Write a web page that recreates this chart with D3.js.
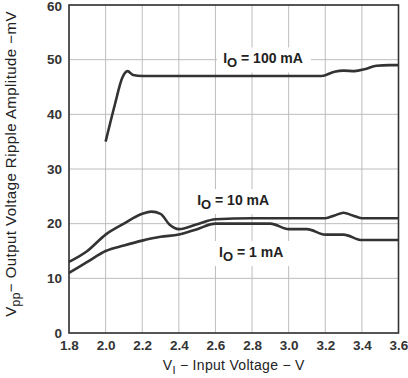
<!DOCTYPE html>
<html><head><meta charset="utf-8">
<script src="https://cdn.jsdelivr.net/npm/d3@7"></script>
<style>body{margin:0;background:#fff}svg{display:block;font-family:"Liberation Sans",Arial,sans-serif}</style>
</head><body><svg id="c" width="408" height="378"></svg>
<script>
const xTicks = [1.8,2.0,2.2,2.4,2.6,2.8,3.0,3.2,3.4,3.6];
const yTicks = [0,10,20,30,40,50,60];
const vin100 = [2.0,2.05,2.09,2.12,2.15,2.2,2.6,3.0,3.18,3.25,3.3,3.36,3.42,3.48,3.55,3.6];
const ripple100 = [35,41.7,46.6,47.9,47.2,47,47,47,47,47.8,48,47.9,48.3,48.9,49,49];
const vin10 = [1.8,1.9,2.0,2.1,2.2,2.25,2.3,2.35,2.4,2.5,2.6,2.8,3.0,3.2,3.25,3.3,3.35,3.4,3.6];
const ripple10 = [13,15,18,20,21.8,22.2,21.8,19.8,19,19.9,20.8,21,21,21,21.5,22,21.5,21,21];
const vin1 = [1.8,1.9,2.0,2.1,2.2,2.3,2.4,2.5,2.6,2.8,2.9,3.0,3.1,3.2,3.3,3.4,3.6];
const ripple1 = [11,13,15,16,16.9,17.6,18,19,20,20,20,19,19,18,18,17,17];
const labels = [
  {t:"100 mA", x:2.642, y:49.3},
  {t:"10 mA", x:2.50, y:23.4},
  {t:"1 mA", x:2.62, y:13.9}
];

const svg = d3.select("#c");
const L=69, R=398.5, T=5, B=333;
const x = d3.scaleLinear().domain([1.8,3.6]).range([L,R]);
const y = d3.scaleLinear().domain([0,60]).range([B,T]);

// grid
svg.append("g").selectAll("line").data(xTicks).join("line")
  .attr("x1",d=>x(d)).attr("x2",d=>x(d)).attr("y1",T).attr("y2",B)
  .attr("stroke","#bdbdbd").attr("stroke-width",1);
svg.append("g").selectAll("line").data(yTicks).join("line")
  .attr("y1",d=>y(d)).attr("y2",d=>y(d)).attr("x1",L).attr("x2",R)
  .attr("stroke","#bdbdbd").attr("stroke-width",1);

// axes labels via d3 axes
const xa = svg.append("g").attr("transform",`translate(0,${B})`)
  .call(d3.axisBottom(x).tickValues(xTicks).tickFormat(d3.format(".1f")).tickSize(0).tickPadding(7));
const ya = svg.append("g").attr("transform",`translate(${L},0)`)
  .call(d3.axisLeft(y).tickValues(yTicks).tickSize(0).tickPadding(7));
[xa,ya].forEach(a=>{a.select(".domain").remove();
  a.selectAll("text").attr("font-family","Liberation Sans, Arial, sans-serif")
   .attr("font-size",13.5).attr("font-weight","bold").attr("fill","#333");});
ya.selectAll("text").filter(d=>d===60).attr("dy","0.40em");

// label backgrounds + labels
const lg = svg.append("g");
labels.forEach(l=>{
  const g = lg.append("g");
  const t = g.append("text").attr("x",x(l.x)).attr("y",y(l.y)).attr("font-size",14)
    .attr("font-weight","bold").attr("fill","#222");
  t.append("tspan").text("I");
  t.append("tspan").attr("dy",4).attr("font-size",13).text("O");
  t.append("tspan").attr("dy",-4).text(" = "+l.t);
  const bb = t.node().getBBox();
  g.insert("rect","text").attr("x",bb.x-6).attr("y",bb.y-3).attr("width",bb.width+14).attr("height",bb.height+5).attr("fill","#fff");
});

// curves
const line = d3.line().x(d=>x(d[0])).y(d=>y(d[1])).curve(d3.curveMonotoneX);
[[vin100,ripple100],[vin10,ripple10],[vin1,ripple1]].forEach(([a,b])=>{
  svg.append("path").datum(a.map((v,i)=>[v,b[i]])).attr("d",line)
    .attr("fill","none").attr("stroke","#333").attr("stroke-width",2.6).attr("stroke-linejoin","round");
});

// frame
svg.append("rect").attr("x",L).attr("y",T).attr("width",R-L).attr("height",B-T)
  .attr("fill","none").attr("stroke","#333").attr("stroke-width",1.6);

// axis titles
const xt = svg.append("text").attr("x",(L+R)/2).attr("y",370).attr("text-anchor","middle")
  .attr("font-size",14).attr("letter-spacing",0.3).attr("fill","#222");
xt.append("tspan").text("V");
xt.append("tspan").attr("dy",4).attr("font-size",11).text("I");
xt.append("tspan").attr("dy",-4).text(" \u2212 Input Voltage \u2212 V");

const yt = svg.append("text").attr("transform",`translate(16,164) rotate(-90)`)
  .attr("text-anchor","middle").attr("font-size",15).attr("letter-spacing",0.45).attr("fill","#222");
yt.append("tspan").text("V");
yt.append("tspan").attr("dy",4).attr("font-size",12).text("pp");
yt.append("tspan").attr("dy",-4).text("\u2212 Output Voltage Ripple Amplitude \u2212mV");
</script></body></html>
